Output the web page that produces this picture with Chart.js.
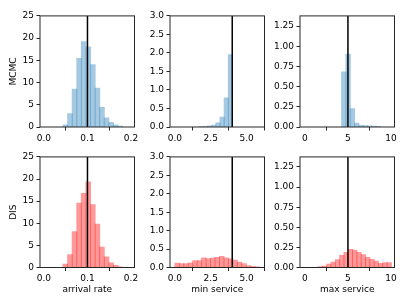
<!DOCTYPE html>
<html>
<head>
<meta charset="utf-8">
<script src="https://cdn.jsdelivr.net/npm/chart.js@4.4.1/dist/chart.umd.min.js"></script>
<style>
  html, body { margin: 0; padding: 0; background: #fff; }
  #wrap { position: relative; width: 407px; height: 305px; overflow: hidden; }
  #wrap canvas { position: absolute; }
</style>
</head>
<body>
<div id="wrap"></div>
<script>
// true parameter values (black vertical lines)
const trueRate = 0.1;
const trueMin = 4;
const trueMax = 5;

// arrival rate histograms (bin centres, density)
const rateBins = [0.0493, 0.0598, 0.0703, 0.0808, 0.0913, 0.1018, 0.1123, 0.1228, 0.1333, 0.1438, 0.1543, 0.1648, 0.1753];
const mcmcRate = [0.45, 3.0, 8.5, 15.4, 19.2, 18.0, 14.0, 8.7, 4.4, 2.0, 1.0, 0.45, 0.15];
const disRate  = [0.75, 2.9, 8.1, 14.5, 16.7, 19.3, 14.2, 9.75, 4.6, 2.4, 1.0, 0.45, 0.1];

// min service
const mcmcMinBins = [1.845, 2.135, 2.425, 2.715, 3.005, 3.295, 3.585, 3.875];
const mcmcMin     = [0.01, 0.015, 0.025, 0.05, 0.11, 0.26, 0.78, 1.95];
const disMinBins = [0.156, 0.467, 0.778, 1.089, 1.4, 1.711, 2.022, 2.333, 2.644, 2.955, 3.266, 3.577, 3.888, 4.199, 4.51, 4.821, 5.132, 5.443, 5.754];
const disMin     = [0.115, 0.10, 0.105, 0.12, 0.18, 0.18, 0.26, 0.24, 0.25, 0.27, 0.30, 0.26, 0.23, 0.20, 0.14, 0.10, 0.05, 0.03, 0.01];

// max service
const mcmcMaxBins = [4.52, 5.02, 5.52, 6.02, 6.52, 7.02, 7.52, 8.02, 8.52];
const mcmcMax     = [0.68, 0.9, 0.225, 0.045, 0.02, 0.015, 0.012, 0.008, 0.004];
const disMaxBins = [1.79, 2.29, 2.79, 3.29, 3.79, 4.29, 4.79, 5.29, 5.79, 6.29, 6.79, 7.29, 7.79, 8.29, 8.79, 9.29, 9.79];
const disMax     = [0.008, 0.016, 0.04, 0.065, 0.095, 0.15, 0.185, 0.225, 0.215, 0.185, 0.16, 0.125, 0.1, 0.077, 0.05, 0.058, 0.058];

// tick values / labels
const rateXTicks = [0, 0.1, 0.2];
const rateXLabels = ['0.0', '0.1', '0.2'];
const minXTicks = [0, 2.5, 5];
const minXLabels = ['0.0', '2.5', '5.0'];
const maxXTicks = [0, 5, 10];
const maxXLabels = ['0', '5', '10'];
const rateYTicks = [0, 5, 10, 15, 20, 25];
const rateYLabels = ['0', '5', '10', '15', '20', '25'];
const minYTicks = [0, 0.5, 1, 1.5, 2, 2.5, 3];
const minYLabels = ['0.0', '0.5', '1.0', '1.5', '2.0', '2.5', '3.0'];
const maxYTicks = [0, 0.25, 0.5, 0.75, 1, 1.25];
const maxYLabels = ['0.00', '0.25', '0.50', '0.75', '1.00', '1.25'];

const BLUE = 'rgba(31,119,180,0.4)';
const RED = 'rgba(255,0,0,0.4)';
const FONT = { family: 'DejaVu Sans', size: 9 };

const cols = [
  { left: 2,   xMin: -0.009, xMax: 0.208, yMax: 25,    xT: rateXTicks, xL: rateXLabels, yT: rateYTicks, yL: rateYLabels, truth: trueRate, xTitle: 'arrival rate' },
  { left: 132, xMin: -0.34,  xMax: 6.25,  yMax: 3,     xT: minXTicks,  xL: minXLabels,  yT: minYTicks,  yL: minYLabels,  truth: trueMin,  xTitle: 'min service' },
  { left: 262, xMin: -0.56,  xMax: 10.4,  yMax: 1.375, xT: maxXTicks,  xL: maxXLabels,  yT: maxYTicks,  yL: maxYLabels,  truth: trueMax,  xTitle: 'max service' }
];
const rows = [
  { top: 8,     title: 'MCMC', color: BLUE, bins: [rateBins, mcmcMinBins, mcmcMaxBins], vals: [mcmcRate, mcmcMin, mcmcMax] },
  { top: 148.5, title: 'DIS',  color: RED,  bins: [rateBins, disMinBins, disMaxBins],   vals: [disRate, disMin, disMax] }
];

const frame = {
  id: 'frame',
  afterDatasetsDraw(chart) {
    const { ctx, chartArea: a } = chart;
    ctx.save();
    ctx.strokeStyle = '#262626';
    ctx.lineWidth = 1;
    ctx.strokeRect(a.left, a.top, a.right - a.left, a.bottom - a.top);
    ctx.restore();
  }
};

const wrap = document.getElementById('wrap');
const PLOT_W = 94.5, PLOT_H = 113, Y_W = 38, PAD_T = 6, PAD_R = 10.5;

rows.forEach((r, ri) => {
  cols.forEach((c, ci) => {
    const bottomRow = ri === 1;
    const xH = bottomRow ? 34.5 : 20;
    const W = Math.round(Y_W + PLOT_W + PAD_R);
    const H = PAD_T + PLOT_H + xH;
    const cv = document.createElement('canvas');
    cv.width = W; cv.height = H;
    cv.style.left = c.left + 'px';
    cv.style.top = r.top + 'px';
    cv.style.width = W + 'px'; cv.style.height = H + 'px';
    wrap.appendChild(cv);

    const bars = r.bins[ci].map((x, i) => ({ x: x, y: r.vals[ci][i] }));
    new Chart(cv.getContext('2d'), {
      type: 'bar',
      data: {
        datasets: [
          {
            type: 'line',
            data: [{ x: c.truth, y: 0 }, { x: c.truth, y: c.yMax }],
            borderColor: '#000',
            borderWidth: 1.5,
            pointRadius: 0,
            order: 0
          },
          {
            data: bars,
            backgroundColor: r.color,
            borderWidth: 0,
            inflateAmount: 0.5,
            barPercentage: 1,
            categoryPercentage: 1,
            order: 1
          }
        ]
      },
      options: {
        responsive: false,
        animation: false,
        devicePixelRatio: 1,
        layout: { padding: { top: PAD_T, right: W - Y_W - PLOT_W, left: 0, bottom: 0 } },
        plugins: { legend: { display: false }, tooltip: { enabled: false } },
        scales: {
          x: {
            type: 'linear',
            min: c.xMin, max: c.xMax,
            offset: false,
            afterFit: s => { s.height = xH; },
            afterBuildTicks: s => { s.ticks = c.xT.map(v => ({ value: v })); },
            ticks: {
              autoSkip: false, maxRotation: 0, padding: 2.5,
              color: '#000', font: FONT,
              callback: (v, i) => c.xL[i]
            },
            grid: { drawOnChartArea: false, drawTicks: true, tickLength: 3.5, tickColor: '#262626' },
            border: { display: false },
            title: {
              display: bottomRow, text: c.xTitle, color: '#000', font: FONT,
              padding: { top: 0, bottom: 6.6 }
            }
          },
          y: {
            min: 0, max: c.yMax,
            afterFit: s => { s.width = Y_W; },
            afterBuildTicks: s => { s.ticks = c.yT.map(v => ({ value: v })); },
            ticks: {
              autoSkip: false, padding: 2.5,
              color: '#000', font: FONT,
              callback: (v, i) => c.yL[i]
            },
            grid: { drawOnChartArea: false, drawTicks: true, tickLength: 3.5, tickColor: '#262626' },
            border: { display: false },
            title: {
              display: ci === 0, text: r.title, color: '#000', font: FONT,
              padding: { top: 6, bottom: 0 }
            }
          }
        }
      },
      plugins: [frame]
    });
  });
});
</script>
</body>
</html>
